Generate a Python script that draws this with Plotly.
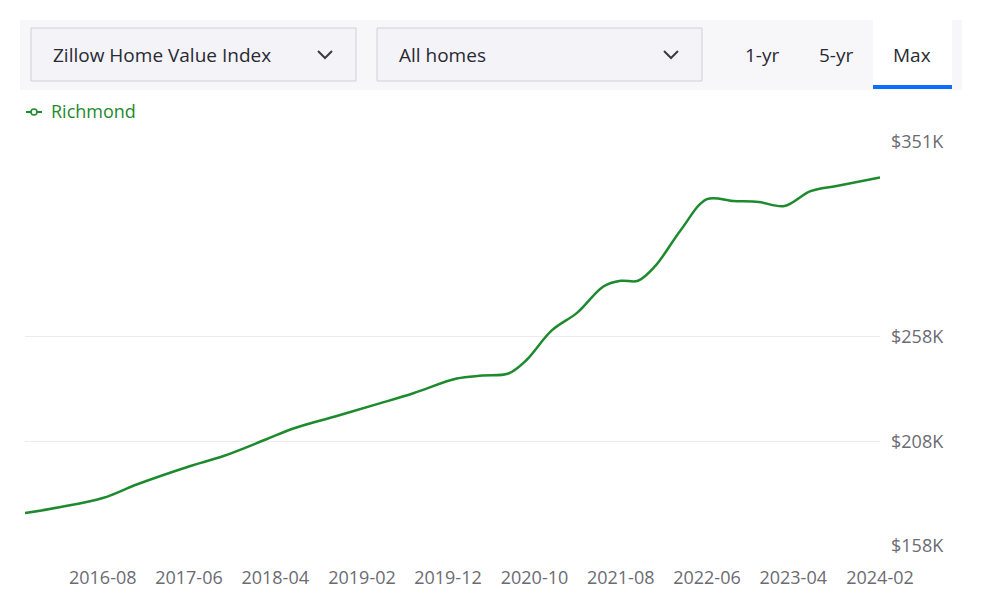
import plotly.graph_objects as go

dates = ["2015-11-01","2016-03-01","2016-08-01","2016-12-01","2017-06-01","2017-10-01","2018-03-01",
         "2018-06-01","2018-11-01","2019-04-01","2019-08-01","2020-01-01","2020-04-01","2020-07-01",
         "2020-09-01","2020-12-01","2021-03-01","2021-06-01","2021-08-01","2021-10-01","2021-12-01",
         "2022-03-01","2022-06-01","2022-09-01","2022-12-01","2023-03-01","2023-06-01","2023-09-01","2024-02-01"]
values = [173.7,176.5,180.9,187.5,196,201,209,214,220,226,231,238,239.4,240.4,246.6,261,269.5,282,
          284.7,284.7,291.8,309,323.7,322.8,322.3,320.4,327.5,330,334]
tick_vals = ["2016-08-01","2017-06-01","2018-04-01","2019-02-01","2019-12-01","2020-10-01",
             "2021-08-01","2022-06-01","2023-04-01","2024-02-01"]
tick_text = ["2016-08","2017-06","2018-04","2019-02","2019-12","2020-10","2021-08","2022-06","2023-04","2024-02"]
y_ticks = [158,208,258,351]
y_text = ["$158K","$208K","$258K","$351K"]

GREEN = "#1e8a2e"
fig = go.Figure(go.Scatter(x=dates, y=values, mode="lines",
                           line=dict(color=GREEN, width=2.5, shape="spline"), hoverinfo="skip"))

L, R, T, B = 25, 880, 142, 546
OFF = 8
def px(x): return (x - L) / (R - L)
def py(y): return (B - y) / (B - T)

shapes = []
ann = []
shapes.append(dict(type="rect", xref="paper", yref="paper", x0=px(20), x1=px(962), y0=py(90), y1=py(20),
                   fillcolor="#f7f7fa", line=dict(width=0), layer="below"))
for x0, x1, label in [(31, 356, "Zillow Home Value Index"), (377, 702, "All homes")]:
    shapes.append(dict(type="rect", xref="paper", yref="paper", x0=px(x0), x1=px(x1), y0=py(81), y1=py(28),
                       fillcolor="#f3f3f8", line=dict(color="#cfcfd6", width=1)))
    ann.append(dict(x=px(x0 + 20), y=py(55), xref="paper", yref="paper", text=label, showarrow=False,
                    xanchor="left", yanchor="middle", font=dict(size=19, color="#2a2a33", family="Open Sans")))
    cx = x1 - 31
    shapes.append(dict(type="path", xref="paper", yref="paper",
                       path=f"M {px(cx-7)} {py(51)} L {px(cx)} {py(58)} L {px(cx+7)} {py(51)}",
                       line=dict(color="#3a3a44", width=2)))
shapes.append(dict(type="rect", xref="paper", yref="paper", x0=px(873), x1=px(952), y0=py(88), y1=py(20),
                   fillcolor="white", line=dict(width=0)))
shapes.append(dict(type="rect", xref="paper", yref="paper", x0=px(873), x1=px(952), y0=py(89), y1=py(85),
                   fillcolor="#0d6efd", line=dict(width=0)))
for x, t in [(762, "1-yr"), (836, "5-yr"), (912, "Max")]:
    ann.append(dict(x=px(x), y=py(55), xref="paper", yref="paper", text=t, showarrow=False,
                    xanchor="center", yanchor="middle",
                    font=dict(size=19, color="#2a2a33", family="Open Sans")))
shapes.append(dict(type="line", xref="paper", yref="paper", x0=px(26), x1=px(42), y0=py(112), y1=py(112),
                   line=dict(color=GREEN, width=2)))
shapes.append(dict(type="circle", xref="paper", yref="paper", x0=px(31), x1=px(37), y0=py(115), y1=py(109),
                   fillcolor="white", line=dict(color=GREEN, width=1.5)))
ann.append(dict(x=px(49), y=py(111), xref="paper", yref="paper", text="Richmond", showarrow=False,
                xanchor="left", yanchor="middle", font=dict(size=18, color=GREEN, family="Open Sans")))

fig.update_layout(
    width=988, height=602, margin=dict(l=L - OFF, r=988 + OFF - R, t=T - OFF, b=602 + OFF - B),
    paper_bgcolor="white", plot_bgcolor="white", showlegend=False,
    font=dict(family="Open Sans", size=18, color="#6b6b73"),
    xaxis=dict(range=["2015-11-01", "2024-02-01"], tickvals=tick_vals, ticktext=tick_text,
               showgrid=False, zeroline=False, showline=False, ticks="", ticklabelstandoff=19),
    yaxis=dict(range=[158, 351], tickvals=y_ticks, ticktext=y_text, side="right",
               showgrid=True, gridcolor="#ececec", zeroline=False, ticklabelstandoff=10),
    shapes=shapes, annotations=ann,
)
fig.write_html("out.html")
